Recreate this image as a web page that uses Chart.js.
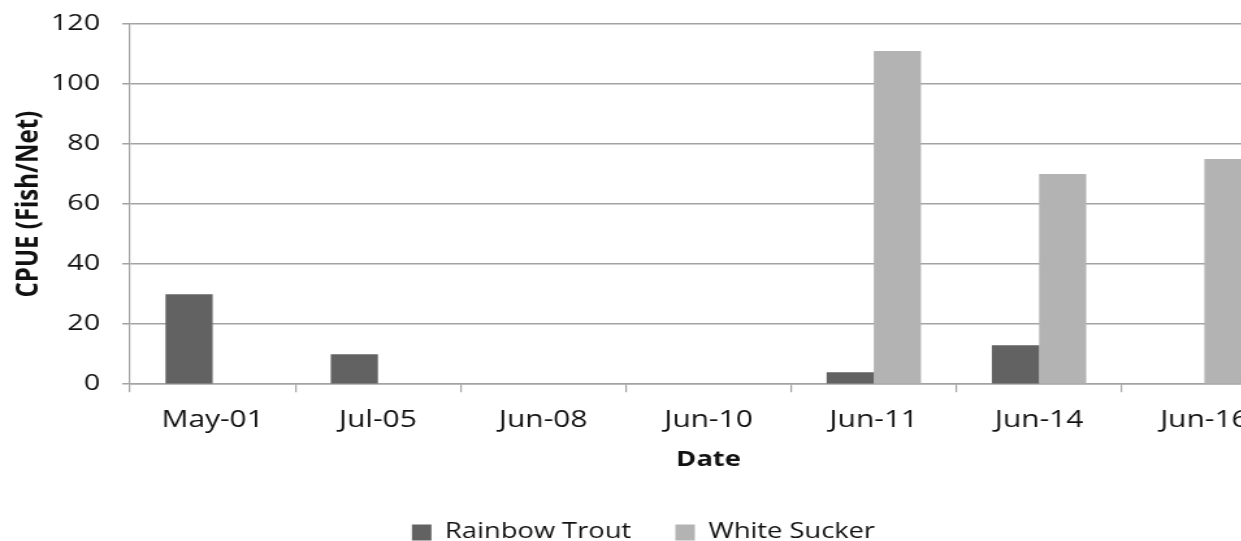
<!DOCTYPE html>
<html>
<head>
<meta charset="utf-8">
<script src="https://cdn.jsdelivr.net/npm/chart.js@4"></script>
<style>
  html, body { margin: 0; padding: 0; overflow: hidden; background: #fff; }
  /* the chart is drawn narrow and stretched sideways, like the pasted figure */
  #wrap { width: 990px; height: 560px; transform: scaleX(1.3); transform-origin: 0 0; }
</style>
</head>
<body>
<div id="wrap"><canvas id="chartjs-0" width="990" height="560"></canvas></div>
<script>
/* Catch per unit effort, gill nets, by sampling date */
var dates = ["May-01", "Jul-05", "Jun-08", "Jun-10", "Jun-11", "Jun-14", "Jun-16"];
var rainbowTrout = [30, 10, 0, 0, 4, 13, 0];
var whiteSucker = [0, 0, 0, 0, 111, 70, 75];

var yMin = 0;
var yMax = 120;
var yStep = 20;

var gridColor = "#a3a3a3";
Chart.defaults.font.family = "'Open Sans', sans-serif";
Chart.defaults.color = "#111";

var ctx = document.getElementById("chartjs-0");

var myChart = new Chart(ctx, {
  type: "bar",
  data: {
    labels: dates,
    datasets: [
      {
        label: "Rainbow Trout",
        data: rainbowTrout,
        backgroundColor: "#626262",
      },
      {
        label: "White Sucker",
        data: whiteSucker,
        backgroundColor: "#b3b3b3",
      },
    ],
  },
  options: {
    responsive: false,
    animation: false,
    layout: {
      padding: { top: 24, right: 0, bottom: 7, left: 0 },
    },
    datasets: {
      bar: { categoryPercentage: 0.571, barPercentage: 1.0 },
    },
    scales: {
      x: {
        grid: {
          offset: true,
          drawOnChartArea: false,
          drawTicks: true,
          tickLength: 8,
          color: gridColor,
          lineWidth: 1.2,
        },
        border: { display: true, color: gridColor, width: 1.5 },
        ticks: { font: { size: 23 }, padding: 14, maxRotation: 0 },
        title: {
          display: true,
          text: "Date",
          font: { size: 21, weight: "bold" },
          padding: { top: 0, bottom: 15 },
        },
      },
      y: {
        min: yMin,
        max: yMax,
        ticks: { stepSize: yStep, font: { size: 22 }, padding: 17 },
        grid: { color: gridColor, lineWidth: 1.5, tickLength: 6 },
        border: { display: true, color: gridColor, width: 1.2 },
        title: {
          display: true,
          text: "CPUE (Fish/Net)",
          font: { size: 24, weight: "bold" },
          padding: { top: 8, bottom: 0 },
        },
        afterFit: function (scale) {
          /* fixed axis width; top/bottom set by layout padding only */
          scale.width = 100;
          scale.paddingTop = 0;
          scale.paddingBottom = 0;
        },
      },
    },
    plugins: {
      legend: {
        position: "bottom",
        labels: {
          boxWidth: 15,
          boxHeight: 16,
          padding: 34,
          font: { size: 21 },
        },
      },
      tooltip: { enabled: false },
    },
  },
});
</script>
</body>
</html>
